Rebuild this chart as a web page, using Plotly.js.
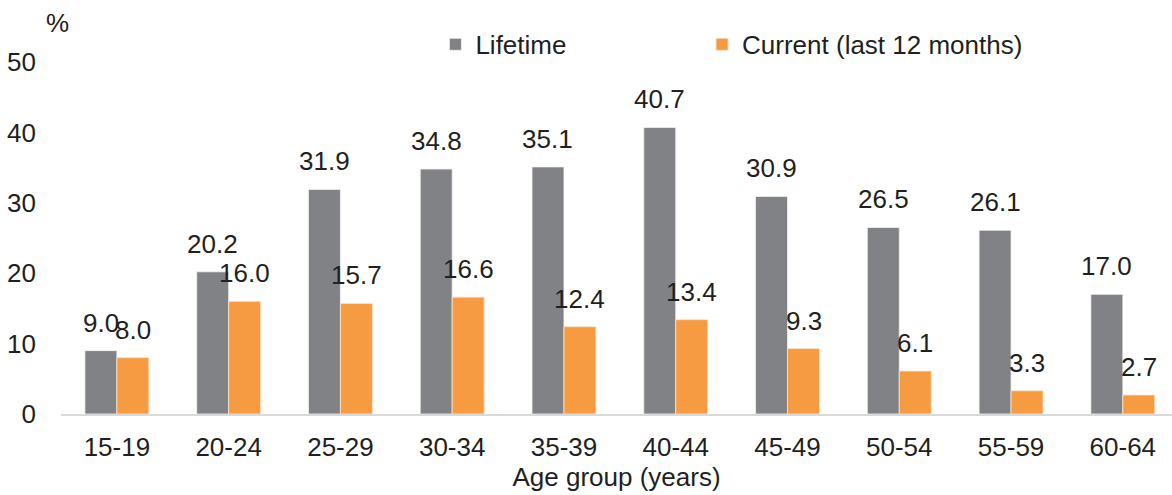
<!DOCTYPE html>
<html>
<head>
<meta charset="utf-8">
<script src="https://cdn.plot.ly/plotly-3.0.1.min.js"></script>
<style>html,body{margin:0;padding:0;background:#fff}#chart{width:1172px;height:495px}</style>
</head>
<body>
<div id="chart"></div>
<script>
const ageGroups = ["15-19","20-24","25-29","30-34","35-39","40-44","45-49","50-54","55-59","60-64"];
const lifetime = [9.0, 20.2, 31.9, 34.8, 35.1, 40.7, 30.9, 26.5, 26.1, 17.0];
const current = [8.0, 16.0, 15.7, 16.6, 12.4, 13.4, 9.3, 6.1, 3.3, 2.7];
const seriesNames = ["Lifetime", "Current (last 12 months)"];
const yTicks = [0, 10, 20, 30, 40, 50];

const FONT = "Liberation Sans, Arial, sans-serif";
const TXT = "#231f20";
const GRAY = "#808285";
const ORANGE = "#f79b42";

const traces = [
  {type: "bar", name: seriesNames[0], x: ageGroups, y: lifetime, legend: "legend",
   marker: {color: GRAY, line: {color: "#f2f2f2", width: 0.8}}, hoverinfo: "x+y"},
  {type: "bar", name: seriesNames[1], x: ageGroups, y: current, legend: "legend2",
   marker: {color: ORANGE, line: {color: "#fbe3cc", width: 0.8}}, hoverinfo: "x+y"}
];

const annotations = [];
[lifetime, current].forEach((vals, si) => {
  vals.forEach((v, i) => {
    annotations.push({
      x: ageGroups[i], y: v, xref: "x", yref: "y",
      text: v.toFixed(1), showarrow: false,
      xanchor: "center", yanchor: "bottom",
      xshift: si === 0 ? -16 : 16, yshift: 11,
      font: {family: FONT, size: 26, color: TXT}
    });
  });
});
annotations.push({
  xref: "paper", yref: "paper", x: -0.003, y: 1.112,
  text: "%", showarrow: false, xanchor: "center", yanchor: "middle",
  font: {family: FONT, size: 26, color: TXT}
});

const legendBase = {orientation: "h", xanchor: "left", y: 1.05, yanchor: "middle",
  font: {family: FONT, size: 26, color: TXT}, bgcolor: "rgba(0,0,0,0)"};

const layout = {
  width: 1172, height: 495,
  margin: {l: 61, r: 0, t: 62, b: 81, pad: 0},
  paper_bgcolor: "#ffffff", plot_bgcolor: "#ffffff",
  font: {family: FONT, size: 26, color: TXT},
  barmode: "group", bargap: 0.428, bargroupgap: 0,
  showlegend: true,
  legend: Object.assign({}, legendBase, {x: 0.337}),
  legend2: Object.assign({}, legendBase, {x: 0.577}),
  xaxis: {
    type: "category", range: [-0.5, 9.44],
    showline: true, linecolor: "#d9d9d9", linewidth: 1.5,
    showgrid: false, zeroline: false, ticks: "",
    ticklabelstandoff: 9,
    tickfont: {family: FONT, size: 26, color: TXT},
    title: {text: "Age group (years)", font: {family: FONT, size: 26, color: TXT}, standoff: 7}
  },
  yaxis: {
    range: [0, 50], tickvals: yTicks, showline: false, showgrid: false, zeroline: false,
    ticks: "", ticklabelstandoff: 24,
    tickfont: {family: FONT, size: 26, color: TXT}
  },
  annotations: annotations
};

Plotly.newPlot("chart", traces, layout, {displayModeBar: false, staticPlot: true});
</script>
</body>
</html>
